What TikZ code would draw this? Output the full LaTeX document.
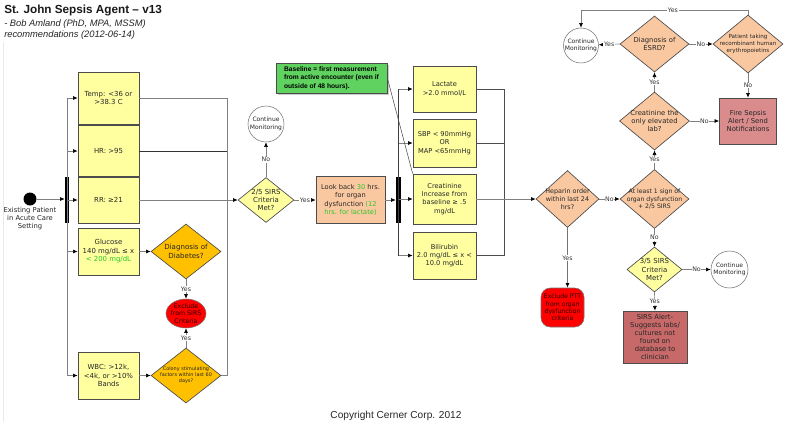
\documentclass[tikz,border=0pt]{standalone}
\usepackage{fontspec}
\setmainfont{DejaVu Sans}
\newfontfamily\arialf{Liberation Sans}
\usetikzlibrary{shapes.geometric,arrows.meta,shadows}
\definecolor{ylw}{RGB}{255,255,160}
\definecolor{org}{RGB}{255,192,0}
\definecolor{pch}{RGB}{250,200,160}
\definecolor{redx}{RGB}{255,0,0}
\definecolor{firec}{RGB}{218,140,140}
\definecolor{alrt}{RGB}{200,105,105}
\definecolor{grnbox}{RGB}{95,210,95}
\definecolor{grntxt}{RGB}{40,200,40}
\definecolor{edgec}{RGB}{232,232,244}
\definecolor{dred}{RGB}{40,0,0}
\begin{document}
\begin{tikzpicture}[x=0.75pt,y=-0.75pt,
  ln/.style={draw=black!50,line width=0.5pt},
  arr/.style={ln,-{Latex[length=3.5pt,width=3pt,color=black]}},
  sz/.style 2 args={minimum width=#1*0.75pt,minimum height=#2*0.75pt},
  bx/.style={draw=black!70,line width=0.5pt,inner sep=0pt,align=center,text=black!85},
  rbox/.style={bx,rectangle},
  dia/.style={bx,diamond},
  circ/.style={draw=black!55,line width=0.4pt,fill=white,circle,inner sep=0pt,align=center,text=black!85},
  txt/.style={inner sep=0pt,align=center,text=black!85},
  lbl/.style={fill=white,inner sep=0.5pt,text=black!80,font=\fontsize{4.7}{5}\selectfont}
]
\fill[white] (0,0) rectangle (792,436);
\useasboundingbox (0,0) rectangle (792,436);
\draw[edgec,line width=0.6pt] (3,42) -- (3,422);

% title
\node[anchor=base west,inner sep=0,font=\arialf\bfseries\fontsize{8.8}{10}\selectfont,text=black!90] (title) at (4,13.5) {St. John Sepsis Agent – v13};
\node[anchor=base west,inner sep=0,font=\arialf\itshape\fontsize{7}{8}\selectfont,text=black!85] (sub1) at (4,26) {- Bob Amland (PhD, MPA, MSSM)};
\node[anchor=base west,inner sep=0,font=\arialf\itshape\fontsize{7}{8}\selectfont,text=black!85] (sub2) at (4,37.5) {recommendations (2012-06-14)};

% start
\node[circle,fill=black,inner sep=0,sz={13}{13}] (start) at (30,199) {};
\node[txt,anchor=north,font=\fontsize{5.1}{6}\selectfont] (startT) at (30,207.5) {Existing Patient\\in Acute Care\\Setting};
\node[fill=black,inner sep=0,sz={4}{46}] (bar1) at (67,200) {};

% left column
\node[rbox,fill=ylw,sz={61}{52},font=\fontsize{5.2}{6.2}\selectfont] (temp) at (108.5,98) {Temp: <36 or\\>38.3 C};
\node[rbox,fill=ylw,sz={61}{51},font=\fontsize{5.2}{6.2}\selectfont] (hr) at (108.5,151) {HR: >95};
\node[rbox,fill=ylw,sz={61}{46},font=\fontsize{5.2}{6.2}\selectfont] (rr) at (108.5,200) {RR: ≥21};
\node[rbox,fill=ylw,sz={61}{47},font=\fontsize{5.2}{6.4}\selectfont] (gluc) at (108.5,251.5) {Glucose\\140 mg/dL ≤ x\\\textcolor{grntxt}{< 200 mg/dL}};
\node[rbox,fill=ylw,sz={61}{47},font=\fontsize{5.2}{6.4}\selectfont] (wbc) at (108.5,375.5) {WBC: >12k,\\<4k, or >10\%\\Bands};

\node[dia,fill=org,sz={70}{55}] (diab) at (186,251.5) {};
\node[txt,font=\fontsize{5.3}{6.3}\selectfont] (diabT) at (diab) {Diagnosis of\\Diabetes?};
\node[ellipse,draw=black!55,line width=0.4pt,fill=redx,inner sep=0,sz={40}{29}] (excl) at (186,313.5) {};
\node[txt,text=dred,font=\fontsize{4.7}{5.6}\selectfont] (exclT) at (excl) {Exclude\\from SIRS\\Criteria};
\node[dia,fill=org,sz={70}{55}] (colony) at (186,375.5) {};
\node[txt,font=\fontsize{3.7}{4.5}\selectfont] (colonyT) at (colony) {Colony stimulating\\factors within last 60\\days?};

% SIRS
\node[dia,fill=ylw,sz={56}{45}] (sirs) at (266,200) {};
\node[txt,font=\fontsize{5.2}{6.2}\selectfont] (sirsT) at (sirs) {2/5 SIRS\\Criteria\\Met?};
\node[circ,sz={36}{36},font=\fontsize{4.5}{5.5}\selectfont] (cm1) at (266,124) {Continue\\Monitoring};
\node[rbox,fill=pch,sz={69}{47},font=\fontsize{5}{6.2}\selectfont] (look) at (350.5,200) {Look back \textcolor{grntxt}{30} hrs.\\for organ\\dysfunction \textcolor{grntxt}{(12}\\\textcolor{grntxt}{hrs. for lactate)}};
\node[fill=black,inner sep=0,sz={5}{46}] (bar2) at (398.5,200) {};

% green note
\node[rbox,fill=grnbox,sz={111}{30},align=left,text=black,font=\arialf\bfseries\fontsize{5}{6.3}\selectfont,drop shadow={shadow xshift=1.5pt,shadow yshift=-1.5pt,fill=black!40}] (green) at (331.5,78) {Baseline = first measurement\\from active encounter (even if\\outside of 48 hours).};

% organ dysfunction column
\node[rbox,fill=ylw,sz={63}{46},font=\fontsize{5}{6.2}\selectfont] (lact) at (444.5,89) {Lactate\\>2.0 mmol/L};
\node[rbox,fill=ylw,sz={63}{48},font=\fontsize{5}{6.2}\selectfont] (sbp) at (444.5,143) {SBP < 90mmHg\\OR\\MAP <65mmHg};
\node[rbox,fill=ylw,sz={63}{50},font=\fontsize{5}{6.2}\selectfont] (creat) at (444.5,199) {Creatinine\\Increase from\\baseline ≥ .5\\mg/dL};
\node[rbox,fill=ylw,sz={63}{47},font=\fontsize{5}{6.2}\selectfont] (bili) at (444.5,255.5) {Bilirubin\\2.0 mg/dL ≤ x <\\10.0 mg/dL};

% right part
\node[dia,fill=pch,sz={63}{57}] (hep) at (567.5,199) {};
\node[txt,font=\fontsize{4.8}{5.8}\selectfont] (hepT) at (hep) {Heparin order\\within last 24\\hrs?};
\node[rectangle,rounded corners=7pt,draw=black!55,line width=0.4pt,fill=redx,inner sep=0,align=center,text=dred,sz={43}{39},font=\fontsize{4.6}{5.5}\selectfont] (ptt) at (562.5,307.5) {Exclude PTT\\from organ\\dysfunction\\criteria};
\node[dia,fill=pch,sz={69}{59}] (atl) at (654.5,199) {};
\node[txt,font=\fontsize{4.6}{5.6}\selectfont] (atlT) at (atl) {At least 1 sign of\\organ dysfunction\\+ 2/5 SIRS};
\node[dia,fill=ylw,sz={55}{45}] (s35) at (654.5,269.5) {};
\node[txt,font=\fontsize{5.2}{6.2}\selectfont] (s35T) at (s35) {3/5 SIRS\\Criteria\\Met?};
\node[circ,sz={37}{37},font=\fontsize{4.5}{5.5}\selectfont] (cm3) at (729.5,269.5) {Continue\\Monitoring};
\node[rbox,fill=alrt,sz={64}{52},font=\fontsize{5.1}{6.1}\selectfont] (alert) at (655,337) {SIRS Alert-\\Suggests labs/\\cultures not\\found on\\database to\\clinician};
\node[dia,fill=pch,sz={70}{58}] (conly) at (654.5,121) {};
\node[txt,font=\fontsize{5.1}{6.1}\selectfont] (conlyT) at (conly) {Creatinine the\\only elevated\\lab?};
\node[rbox,fill=firec,sz={57}{46},font=\fontsize{5.1}{6.1}\selectfont] (fire) at (748,121) {Fire Sepsis\\Alert / Send\\Notifications};
\node[dia,fill=pch,sz={69}{56}] (esrd) at (654.5,44) {};
\node[txt,font=\fontsize{5.1}{6.1}\selectfont] (esrdT) at (esrd) {Diagnosis of\\ESRD?};
\node[circ,sz={35}{35},font=\fontsize{4.5}{5.5}\selectfont] (cm2) at (581,45.5) {Continue\\Monitoring};
\node[dia,fill=pch,sz={70}{58}] (pat) at (748,44) {};
\node[txt,font=\fontsize{4.2}{5.1}\selectfont] (patT) at (pat) {Patient taking\\recombinant human\\erythropoietins};

\node[anchor=base,inner sep=0,font=\arialf\fontsize{7.6}{9}\selectfont,text=black!85] (copy) at (396,418) {Copyright Cerner Corp. 2012};

% connectors left
\draw[arr] (start.east) -- (start.east -| bar1.west);
\draw[ln] (temp.west -| bar1) -- (wbc.west -| bar1);
\foreach \n in {temp,hr,rr,gluc,wbc} \draw[arr] (\n.west -| bar1) -- (\n.west);
\coordinate (c1) at (227,0);
\draw[ln] (temp.east) -- (temp.east -| c1) -- (colony.east -| c1) -- (colony.east);
\draw[ln,draw=black!80] (hr.east) -- (hr.east -| c1);
\draw[arr] (rr.east) -- (sirs.west);
\draw[arr] (gluc.east) -- (diab.west);
\draw[arr] (wbc.east) -- (colony.west);
\draw[arr] (diab.south) -- node[lbl]{Yes} (excl.north);
\draw[arr] (colony.north) -- node[lbl]{Yes} (excl.south);
\draw[arr] (sirs.north) -- node[lbl]{No} (cm1.south);
\draw[arr] (sirs.east) -- node[lbl]{Yes} (look.west);
\draw[arr] (look.east) -- (look.east -| bar2.west);

% organ column connectors
\draw[ln,draw=black!75] (lact.west -| bar2) -- (bili.west -| bar2);
\foreach \n in {lact,sbp,creat,bili} \draw[arr] (\n.west -| bar2) -- (\n.west);
\coordinate (c2) at (504,0);
\draw[ln,draw=black!70] (lact.east) -- (lact.east -| c2) -- (bili.east -| c2) -- (bili.east);
\draw[ln,draw=black!70] (sbp.east) -- (sbp.east -| c2);
\draw[arr] (creat.east) -- (hep.west);
\draw[ln,draw=black!70,line width=0.4pt] (green.east) -- (creat.north west);

% right connectors
\draw[arr,line width=1pt,draw=black!55] (hep.south) -- node[lbl]{Yes} (hep.south |- ptt.north);
\draw[arr] (hep.east) -- node[lbl]{No} (atl.west);
\draw[arr] (atl.south) -- node[lbl]{No} (s35.north);
\draw[arr] (s35.east) -- node[lbl]{No} (cm3.west);
\draw[arr] (s35.south) -- node[lbl]{Yes} (alert.north);
\draw[arr] (atl.north) -- node[lbl]{Yes} (conly.south);
\draw[arr] (conly.east) -- node[lbl]{No} (fire.west);
\draw[arr] (conly.north) -- node[lbl]{Yes} (esrd.south);
\draw[arr] (esrd.west) -- node[lbl]{Yes} (cm2);
\draw[arr] (esrd.east) -- node[lbl]{No} (pat.west);
\draw[arr] (pat.south) -- node[lbl]{No} (fire.north);
\coordinate (ytop) at (0,10);
\draw[arr] (pat.north) -- (pat.north |- ytop) -- node[lbl,pos=0.45]{Yes} (cm2.north |- ytop) -- (cm2.north);
\end{tikzpicture}
\end{document}
